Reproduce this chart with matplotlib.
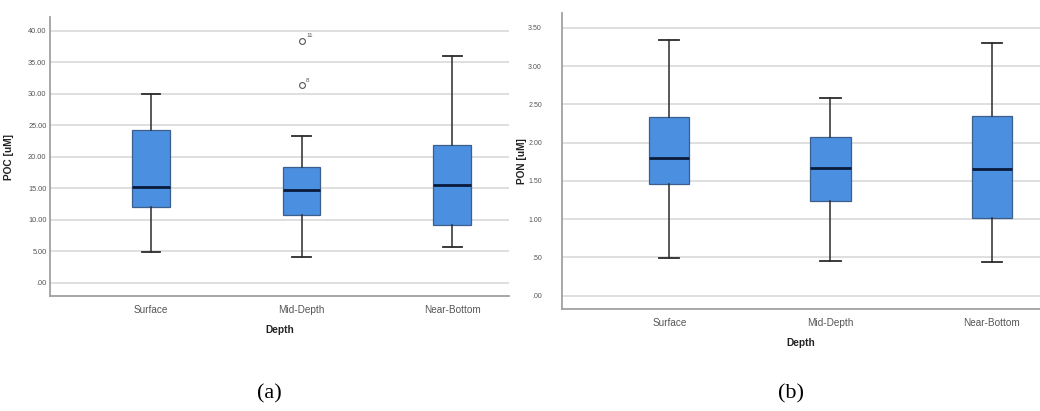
import matplotlib
matplotlib.use("Agg")
import matplotlib.pyplot as plt
from matplotlib.ticker import FixedLocator, FuncFormatter

# Category axis
depths = ["Surface", "Mid-Depth", "Near-Bottom"]

# POC [uM] five-number summaries per depth
poc_whislo = [4.8, 4.1, 5.6]
poc_q1 = [12.0, 10.8, 9.1]
poc_med = [15.2, 14.7, 15.5]
poc_q3 = [24.3, 18.3, 21.9]
poc_whishi = [30.0, 23.3, 36.0]
# Outliers (Mid-Depth only) with their case numbers
poc_outlier_vals = [31.3, 38.4]
poc_outlier_cases = ["8", "11"]
poc_outlier_group = 1

# PON [uM] five-number summaries per depth
pon_whislo = [0.49, 0.45, 0.44]
pon_q1 = [1.46, 1.24, 1.01]
pon_med = [1.80, 1.67, 1.66]
pon_q3 = [2.33, 2.08, 2.35]
pon_whishi = [3.34, 2.58, 3.31]

poc_ticks = [0, 5, 10, 15, 20, 25, 30, 35, 40]
pon_ticks = [0, 0.5, 1.0, 1.5, 2.0, 2.5, 3.0, 3.5]

plt.rcParams["font.family"] = ["Liberation Sans", "DejaVu Sans"]

BOX_FILL = "#4a8fe0"
BOX_EDGE = "#3c5f8c"
MED_COL = "#0a1a3a"
WHISK_COL = "#2b2b2b"
GRID_COL = "#d9d9d9"
SPINE_COL = "#a0a0a0"
TEXT_COL = "#555555"


def spss_fmt(v, _pos=None):
    s = f"{v:.2f}"
    if s.startswith("0."):
        s = s[1:]
    return s


def make_stats(lo, q1, med, q3, hi, fliers_by_group=None):
    stats = []
    for i, lab in enumerate(depths):
        fl = fliers_by_group.get(i, []) if fliers_by_group else []
        stats.append(dict(label=lab, whislo=lo[i], q1=q1[i], med=med[i],
                          q3=q3[i], whishi=hi[i], fliers=fl))
    return stats


def draw_panel(ax, stats, ticks, ylim, xlim, ylabel, ytick_size, ytick_pad,
               xtick_pad, xlabel_pad):
    ax.set_axisbelow(True)
    ax.bxp(stats, positions=range(len(depths)), widths=0.25, capwidths=0.125,
           patch_artist=True, showfliers=True,
           boxprops=dict(facecolor=BOX_FILL, edgecolor=BOX_EDGE, linewidth=0.9),
           medianprops=dict(color=MED_COL, linewidth=2.0),
           whiskerprops=dict(color=WHISK_COL, linewidth=1.1),
           capprops=dict(color=WHISK_COL, linewidth=1.3),
           flierprops=dict(marker="o", markerfacecolor="none",
                           markeredgecolor="#555555", markersize=4.2,
                           markeredgewidth=0.8))
    ax.set_xlim(*xlim)
    ax.set_ylim(*ylim)
    ax.yaxis.set_major_locator(FixedLocator(ticks))
    ax.yaxis.set_major_formatter(FuncFormatter(spss_fmt))
    ax.grid(axis="y", color=GRID_COL, linewidth=1.2)
    ax.set_xticks(range(len(depths)))
    ax.set_xticklabels(depths)
    for s in ("top", "right"):
        ax.spines[s].set_visible(False)
    for s in ("left", "bottom"):
        ax.spines[s].set_color(SPINE_COL)
        ax.spines[s].set_linewidth(1.3)
    ax.tick_params(axis="y", length=0, labelsize=ytick_size,
                   labelcolor=TEXT_COL, pad=ytick_pad)
    ax.tick_params(axis="x", length=0, labelsize=7.2, labelcolor=TEXT_COL,
                   pad=xtick_pad)
    ax.set_xlabel("Depth", fontsize=7.3, fontweight="bold", color="#222222",
                  labelpad=xlabel_pad)
    ax.set_ylabel(ylabel, fontsize=7.3, fontweight="bold", color="#222222")


fig = plt.figure(figsize=(10.4, 4.11), dpi=100)

ax_a = fig.add_axes([0.0481, 0.2786, 0.4416, 0.6800])
ax_b = fig.add_axes([0.5404, 0.2470, 0.4596, 0.7214])

poc_stats = make_stats(poc_whislo, poc_q1, poc_med, poc_q3, poc_whishi,
                       {poc_outlier_group: poc_outlier_vals})
pon_stats = make_stats(pon_whislo, pon_q1, pon_med, pon_q3, pon_whishi)

draw_panel(ax_a, poc_stats, poc_ticks, (-2.19, 42.17), (-0.670, 2.378),
           "POC [uM]", 5.3, 2.5, 6.0, 7.0)
draw_panel(ax_b, pon_stats, pon_ticks, (-0.18, 3.696), (-0.666, 2.30),
           "PON [uM]", 5.0, 14.5, 6.0, 7.0)

ax_a.yaxis.set_label_coords(-0.078, 0.5)
ax_b.yaxis.set_label_coords(-0.073, 0.5)

# Case numbers beside the outlying points
for val, case in zip(poc_outlier_vals, poc_outlier_cases):
    ax_a.annotate(case, xy=(poc_outlier_group, val), xytext=(3.2, 3.5),
                  textcoords="offset points", fontsize=4.5, color=TEXT_COL,
                  ha="left", va="center")

# Panel captions
fig.text(269 / 1040, 1 - 394 / 411, "(a)", fontsize=16,
         family="Liberation Serif", ha="center", va="center")
fig.text(791 / 1040, 1 - 394 / 411, "(b)", fontsize=16,
         family="Liberation Serif", ha="center", va="center")

fig.savefig("out.png", dpi=100)
